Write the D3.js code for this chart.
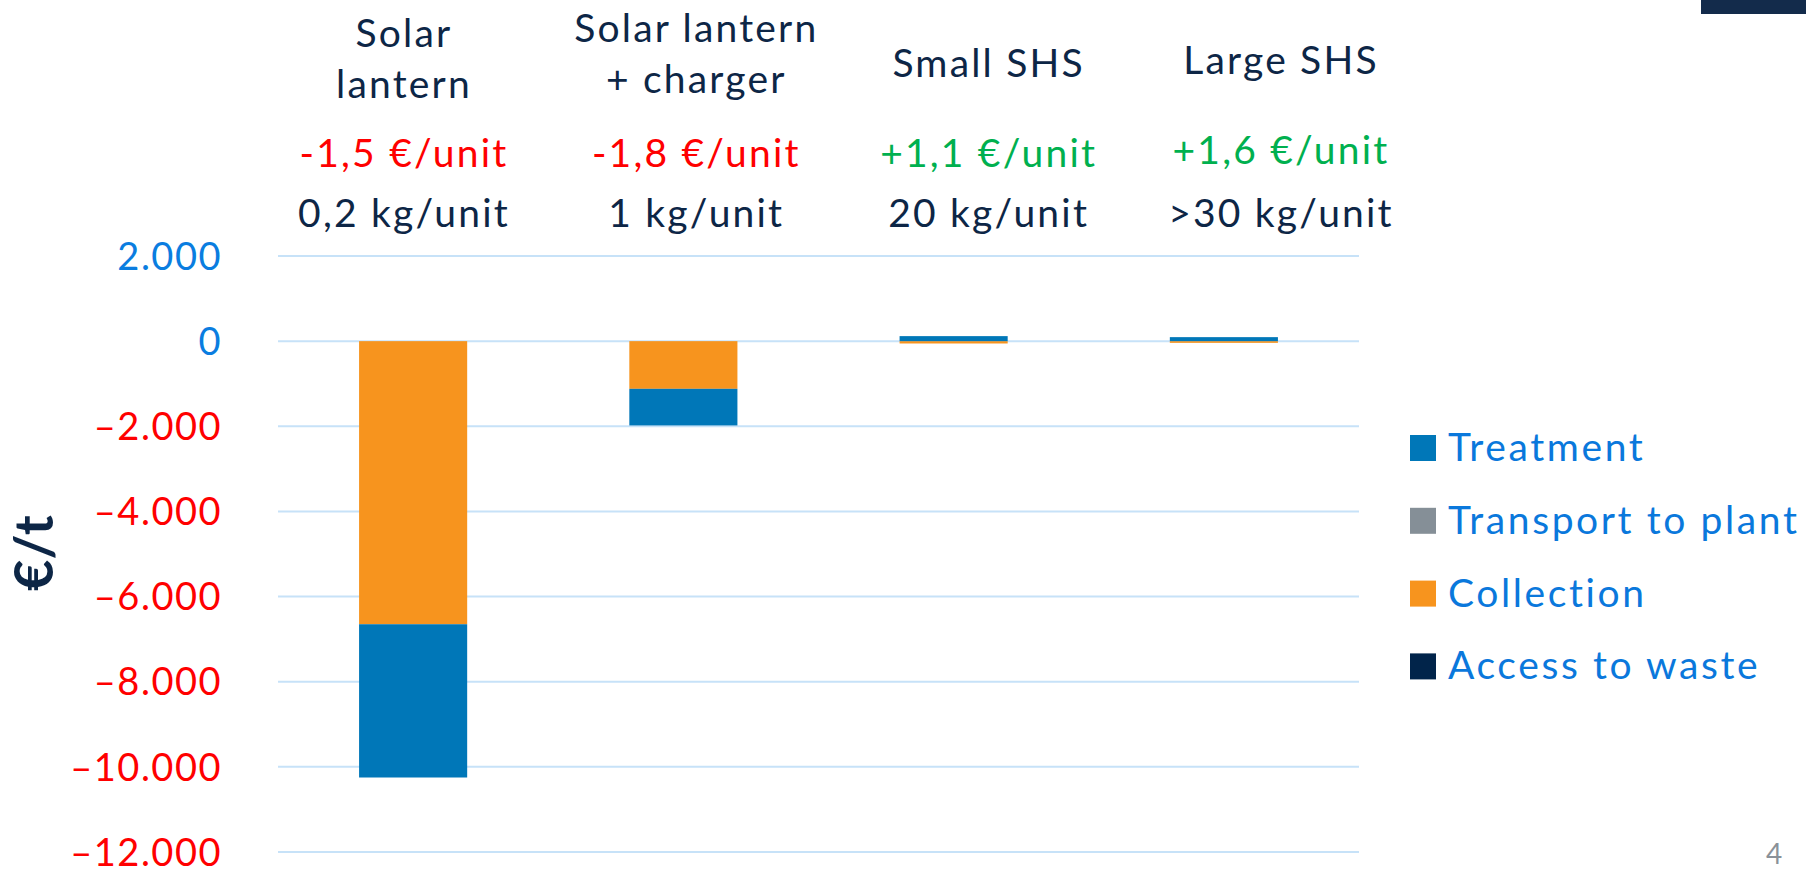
<!DOCTYPE html>
<html>
<head>
<meta charset="utf-8">
<script src="https://cdn.jsdelivr.net/npm/d3@7"></script>
<style>
  body { margin: 0; background: #fff; }
  text { font-family: Lato, "Open Sans", sans-serif; }
</style>
</head>
<body>
<svg id="chart"></svg>
<script>
// categories and header texts
var categories = ["Solar lantern", "Solar lantern + charger", "Small SHS", "Large SHS"];
var categoryLines = [["Solar", "lantern"], ["Solar lantern", "+ charger"], ["Small SHS"], ["Large SHS"]];
var perUnit = ["-1,5 €/unit", "-1,8 €/unit", "+1,1 €/unit", "+1,6 €/unit"];
var perUnitSign = [-1, -1, 1, 1];
var weights = ["0,2 kg/unit", "1 kg/unit", "20 kg/unit", ">30 kg/unit"];

// series values in €/t (stacking order from zero outwards)
var seriesKeys = ["Access to waste", "Collection", "Transport to plant", "Treatment"];
var accessToWaste = [0, 0, 0, 0];
var collection = [-6650, -1120, -55, -40];
var transportToPlant = [0, 0, 0, 0];
var treatment = [-3600, -860, 118, 94];

// legend order and y ticks
var legendKeys = ["Treatment", "Transport to plant", "Collection", "Access to waste"];
var yTicks = [2000, 0, -2000, -4000, -6000, -8000, -10000, -12000];

var colors = {
  "Treatment": "#0077b8",
  "Transport to plant": "#858f97",
  "Collection": "#f7941e",
  "Access to waste": "#01244a"
};

var width = 1806, height = 869;

var svg = d3.select("#chart")
  .attr("width", width)
  .attr("height", height);

// build table for the stack
var table = categories.map(function(c, i) {
  return {
    category: c,
    "Access to waste": accessToWaste[i],
    "Collection": collection[i],
    "Transport to plant": transportToPlant[i],
    "Treatment": treatment[i]
  };
});

var stacked = d3.stack()
  .keys(seriesKeys)
  .offset(d3.stackOffsetDiverging)(table);

// scales
var x = d3.scaleBand()
  .domain(categories)
  .range([278, 1359])
  .paddingInner(0.6)
  .paddingOuter(0.3);

var y = d3.scaleLinear()
  .domain([-12000, 2000])
  .range([852, 256]);

// header columns sit on their own evenly spaced positions
var headX = d3.scalePoint()
  .domain(categories)
  .range([404, 1281]);

var locale = d3.formatLocale({decimal: ",", thousands: ".", grouping: [3], currency: ["", "€"], minus: "–"});
var fmt = locale.format(",d");

// gridlines
svg.append("g")
  .selectAll("line")
  .data(yTicks)
  .enter()
  .append("line")
  .attr("x1", 278)
  .attr("x2", 1359)
  .attr("y1", function(d) { return y(d); })
  .attr("y2", function(d) { return y(d); })
  .attr("stroke", "#c7e2f8")
  .attr("stroke-width", 2);

// y tick labels
svg.append("g")
  .selectAll("text")
  .data(yTicks)
  .enter()
  .append("text")
  .attr("x", 222)
  .attr("y", function(d) { return y(d); })
  .attr("dy", "0.36em")
  .attr("text-anchor", "end")
  .style("font-size", "38px")
  .style("letter-spacing", "1.5px")
  .style("fill", function(d) { return d < 0 ? "#ff0000" : "#0a7de0"; })
  .text(function(d) { return fmt(d); });

// y axis title
svg.append("text")
  .attr("transform", "translate(34,553) rotate(-90)")
  .attr("text-anchor", "middle")
  .attr("dy", "0.36em")
  .style("font-size", "54px")
  .style("font-weight", "bold")
  .style("fill", "#0d2646")
  .text("€/t");

// stacked bars
svg.append("g")
  .selectAll("g")
  .data(stacked)
  .enter()
  .append("g")
  .attr("fill", function(d) { return colors[d.key]; })
  .selectAll("rect")
  .data(function(d) { return d; })
  .enter()
  .append("rect")
  .attr("x", function(d) { return x(d.data.category); })
  .attr("width", x.bandwidth())
  .attr("y", function(d) { return y(Math.max(d[0], d[1])); })
  .attr("height", function(d) { return Math.abs(y(d[0]) - y(d[1])); });

// category headers
var head = svg.append("g")
  .style("font-size", "39px")
  .style("letter-spacing", "2.2px");

categories.forEach(function(c, i) {
  var lines = categoryLines[i];
  var base = lines.length === 2 ? (i === 0 ? 47 : 42) : (i === 2 ? 77 : 74);
  lines.forEach(function(t, k) {
    head.append("text")
      .attr("x", headX(c))
      .attr("y", base + k * 51)
      .attr("text-anchor", "middle")
      .style("fill", "#0d2646")
      .text(t);
  });
  head.append("text")
    .attr("x", headX(c))
    .attr("y", i === 3 ? 164 : 167)
    .attr("text-anchor", "middle")
    .style("fill", perUnitSign[i] < 0 ? "#ff0000" : "#00b04f")
    .text(perUnit[i]);
  head.append("text")
    .attr("x", headX(c))
    .attr("y", 227)
    .attr("text-anchor", "middle")
    .style("fill", "#0d2646")
    .text(weights[i]);
});

// legend
var legend = svg.append("g")
  .selectAll("g")
  .data(legendKeys)
  .enter()
  .append("g")
  .attr("transform", function(d, i) { return "translate(1410," + (448 + i * 72.8) + ")"; });

legend.append("rect")
  .attr("x", 0)
  .attr("y", -13)
  .attr("width", 26)
  .attr("height", 26)
  .attr("fill", function(d) { return colors[d]; });

legend.append("text")
  .attr("x", 38)
  .attr("y", 13)
  .style("font-size", "39px")
  .style("letter-spacing", "2.6px")
  .style("fill", "#0a78dc")
  .text(function(d) { return d; });

// slide decorations
svg.append("rect")
  .attr("x", 1701)
  .attr("y", 0)
  .attr("width", 105)
  .attr("height", 14)
  .attr("fill", "#132b4b");

svg.append("text")
  .attr("x", 1774)
  .attr("y", 864)
  .attr("text-anchor", "middle")
  .style("font-size", "28px")
  .style("fill", "#8a9199")
  .text("4");
</script>
</body>
</html>
